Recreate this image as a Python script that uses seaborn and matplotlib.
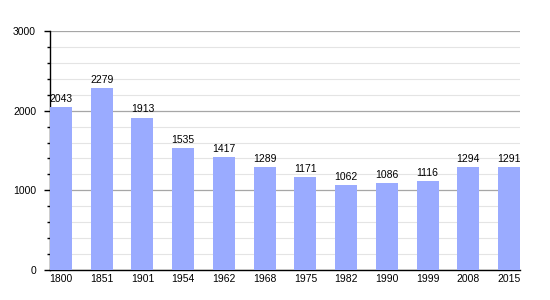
import matplotlib
matplotlib.use("Agg")
import matplotlib.pyplot as plt
import seaborn as sns
import pandas as pd
from matplotlib.ticker import MultipleLocator

years = ["1800", "1851", "1901", "1954", "1962", "1968", "1975", "1982", "1990", "1999", "2008", "2015"]
population = [2043, 2279, 1913, 1535, 1417, 1289, 1171, 1062, 1086, 1116, 1294, 1291]

sns.set_theme(style="white")
plt.rcParams['font.family'] = ['Liberation Sans', 'DejaVu Sans']

df = pd.DataFrame({"year": years, "pop": population})

fig = plt.figure(figsize=(5.5, 3.0), dpi=100)
ax = fig.add_axes([50/550, 30/300, 470/550, 239/300])

w = 0.54
sns.barplot(data=df, x="year", y="pop", color="#9aabff", saturation=1, width=w,
            linewidth=0, edgecolor="none", ax=ax, zorder=3)

ax.set_ylim(0, 3000)
ax.set_xlim(-w/2, len(years) - 1 + w/2)
ax.yaxis.set_major_locator(MultipleLocator(1000))
ax.yaxis.set_minor_locator(MultipleLocator(200))
ax.grid(which="major", axis="y", color="#a6a6a6", linewidth=0.9, zorder=0)
ax.grid(which="minor", axis="y", color="#e4e4e4", linewidth=0.8, zorder=0)
ax.set_axisbelow(True)

for s in ["top", "right"]:
    ax.spines[s].set_visible(False)
for s in ["left", "bottom"]:
    ax.spines[s].set_color("black")
    ax.spines[s].set_linewidth(1.0)

ax.tick_params(axis="y", which="major", direction="out", length=4, width=1, color="black",
               labelsize=7.5, labelcolor="black", pad=6, left=True)
ax.tick_params(axis="y", which="minor", direction="out", length=2, width=1, color="black", left=True)
ax.tick_params(axis="x", length=0, labelsize=7.5, labelcolor="black", pad=3)
ax.set_xlabel("")
ax.set_ylabel("")

for i, v in enumerate(population):
    ax.text(i, v + 40, str(v), ha="center", va="bottom", fontsize=7.5, color="black", zorder=4)

fig.savefig("out.png", dpi=100)
